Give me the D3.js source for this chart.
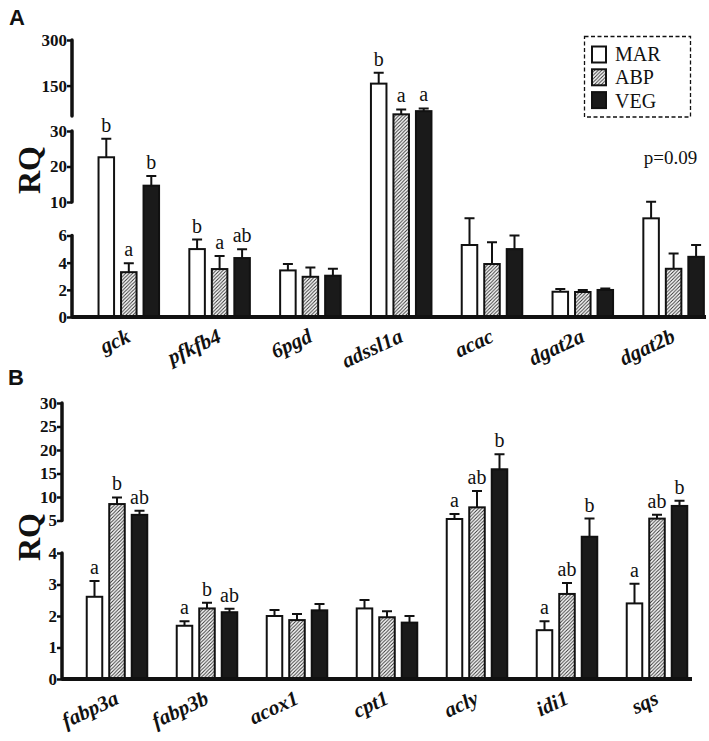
<!DOCTYPE html>
<html><head><meta charset="utf-8">
<script src="https://cdn.jsdelivr.net/npm/d3@7"></script>
<style>
html,body{margin:0;padding:0;background:#fff;}
svg{display:block;}
.serif{font-family:"Liberation Serif","Times New Roman",serif;}
</style></head>
<body>
<script>
// ---------- DATA ----------
const series = ["MAR", "ABP", "VEG"];

const genesA = ["gck", "pfkfb4", "6pgd", "adssl1a", "acac", "dgat2a", "dgat2b"];
const marA = [22.6, 5.0, 3.43, 156.5, 5.3, 1.86, 8.05];
const marErrA = [5.2, 0.7, 0.47, 35.5, 2.75, 0.2, 2.05];
const abpA = [3.3, 3.53, 2.96, 55.5, 3.9, 1.84, 3.55];
const abpErrA = [0.65, 0.97, 0.69, 16.2, 1.6, 0.15, 1.13];
const vegA = [14.6, 4.34, 3.04, 66, 5.0, 1.99, 4.43];
const vegErrA = [2.7, 0.64, 0.51, 9, 1.0, 0.11, 0.87];
const marLetA = ["b", "b", "", "b", "", "", ""];
const abpLetA = ["a", "a", "", "a", "", "", ""];
const vegLetA = ["b", "ab", "", "a", "", "", ""];
const noteA = {gene: "dgat2b", text: "p=0.09"};
// broken y-axis segments [low, high] and tick labels
const segmentsA = [[0, 6], [10, 30], [50, 300]];
const ticksA = [[0, 2, 4, 6], [10, 20, 30], [150, 300]];

const genesB = ["fabp3a", "fabp3b", "acox1", "cpt1", "acly", "idi1", "sqs"];
const marB = [2.61, 1.69, 2.0, 2.24, 5.32, 1.55, 2.4];
const marErrB = [0.5, 0.14, 0.19, 0.27, 1.08, 0.28, 0.62];
const abpB = [8.5, 2.24, 1.87, 1.96, 7.8, 2.7, 5.4];
const abpErrB = [1.4, 0.18, 0.19, 0.19, 3.5, 0.35, 0.8];
const vegB = [6.2, 2.12, 2.18, 1.79, 15.9, 4.5, 8.1];
const vegErrB = [0.9, 0.11, 0.2, 0.21, 3.2, 0.9, 1.1];
const marLetB = ["a", "a", "", "", "a", "a", "a"];
const abpLetB = ["b", "b", "", "", "ab", "ab", "ab"];
const vegLetB = ["ab", "ab", "", "", "b", "b", "b"];
const segmentsB = [[0, 4], [5, 30]];
const ticksB = [[0, 1, 2, 3, 4], [5, 10, 15, 20, 25, 30]];

// ---------- DRAW ----------
const W = 709, H = 741;
const svg = d3.select("body").append("svg").attr("width", W).attr("height", H);

const defs = svg.append("defs");
const pat = defs.append("pattern").attr("id", "hatch")
  .attr("patternUnits", "userSpaceOnUse").attr("width", 3.5).attr("height", 3.5);
pat.append("rect").attr("width", 3.5).attr("height", 3.5).attr("fill", "#fff");
pat.append("path").attr("d", "M-1,1 l2,-2 M0,3.5 l3.5,-3.5 M2.5,4.5 l2,-2")
  .attr("stroke", "#333").attr("stroke-width", 1);

const fills = {MAR: "#fff", ABP: "url(#hatch)", VEG: "#1a1a1a"};
const SERIF = '"Liberation Serif","Times New Roman",serif';

function panel(cfg) {
  const g = svg.append("g");
  const y = d3.scaleLinear().domain(cfg.yDomain).range(cfg.yRange);
  const x0 = d3.scaleBand().domain(cfg.genes).range(cfg.xBand);
  const x1 = d3.scaleBand().domain(series).range([-33.75, 33.75])
    .paddingInner(0.31).paddingOuter(0.155);

  const rows = [];
  cfg.genes.forEach((gene, i) => {
    series.forEach((s, j) => {
      rows.push({gene, s, v: cfg.vals[j][i], e: cfg.errs[j][i], lab: cfg.lets[j][i]});
    });
  });

  const bx = d => x0(d.gene) + x0.bandwidth() / 2 + x1(d.s);
  g.selectAll(".err").data(rows).join("path")
    .attr("d", d => {
      const cx = bx(d) + x1.bandwidth() / 2;
      const yt = y(d.v + d.e);
      return `M${cx},${y(d.v)}V${yt}M${cx - 5},${yt}H${cx + 5}`;
    })
    .attr("stroke", "#111").attr("stroke-width", 2).attr("fill", "none");
  g.selectAll(".bar").data(rows).join("rect")
    .attr("x", d => bx(d)).attr("width", x1.bandwidth())
    .attr("y", d => y(d.v)).attr("height", d => y(0) - y(d.v))
    .attr("fill", d => fills[d.s]).attr("stroke", "#111").attr("stroke-width", 2);
  g.selectAll(".let").data(rows.filter(d => d.lab)).join("text")
    .attr("x", d => bx(d) + x1.bandwidth() / 2)
    .attr("y", d => y(d.v + d.e) - 7)
    .attr("text-anchor", "middle").style("font-family", SERIF).style("font-size", "20px")
    .attr("fill", "#111").text(d => d.lab);

  cfg.segments.forEach((seg, k) => {
    const sc = d3.scaleLinear().domain(seg).range([y(seg[0]), y(seg[1])]);
    const ax = g.append("g").attr("transform", `translate(${cfg.axisX},0)`)
      .call(d3.axisLeft(sc).tickValues(cfg.ticks[k]).tickFormat(d3.format("d"))
        .tickSize(5).tickSizeOuter(0).tickPadding(0));
    ax.attr("font-family", null).attr("font-size", null);
    ax.select(".domain").attr("stroke", "#111").attr("stroke-width", 3.5)
      .attr("stroke-linecap", "round")
      .attr("d", `M0,${sc.range()[0]}V${sc.range()[1]}`);
    ax.selectAll(".tick line").attr("stroke", "#111").attr("stroke-width", 2.5);
    ax.selectAll(".tick text").style("font-family", SERIF).style("font-weight", "bold")
      .style("font-size", "17px").attr("fill", "#111");
  });
  g.append("line").attr("x1", cfg.axisX).attr("x2", cfg.baseEnd)
    .attr("y1", y(0)).attr("y2", y(0)).attr("stroke", "#111").attr("stroke-width", 4);

  g.selectAll(".gl").data(cfg.genes).join("text")
    .attr("transform", d => `translate(${x0(d) + x0.bandwidth() / 2 + 3},${y(0) + 24}) rotate(-25)`)
    .attr("text-anchor", "end").style("font-family", SERIF).style("font-weight", "bold")
    .style("font-style", "italic").style("font-size", "21px").attr("fill", "#111").text(d => d);

  g.append("text").attr("transform", `translate(${cfg.rqX},${cfg.rqY}) rotate(-90)`)
    .attr("text-anchor", "middle").style("font-family", SERIF).style("font-weight", "bold")
    .style("font-size", "32px").attr("fill", "#111").text("RQ");
  g.append("text").attr("x", cfg.letX).attr("y", cfg.letY)
    .style("font-family", '"Liberation Sans",Arial,sans-serif').style("font-weight", "bold")
    .style("font-size", "22px").attr("fill", "#111").text(cfg.letter);

  return {g, x0, y};
}

const A = panel({
  genes: genesA, vals: [marA, abpA, vegA], errs: [marErrA, abpErrA, vegErrA],
  lets: [marLetA, abpLetA, vegLetA],
  yDomain: [0, 6, 10, 30, 50, 300], yRange: [317, 235.5, 202, 131, 116, 40],
  xBand: [83.4, 719], segments: segmentsA, ticks: ticksA,
  axisX: 72, baseEnd: 706, rqX: 40, rqY: 170, letter: "A", letX: 9, letY: 25
});
A.g.append("text")
  .attr("x", A.x0(noteA.gene) + A.x0.bandwidth() / 2 - 3)
  .attr("y", 164).attr("text-anchor", "middle").style("font-family", SERIF)
  .style("font-size", "19px").attr("fill", "#111").text(noteA.text);

const lg = svg.append("g");
lg.append("rect").attr("x", 584.5).attr("y", 36.5).attr("width", 106).attr("height", 80.5)
  .attr("fill", "none").attr("stroke", "#111").attr("stroke-width", 1.3)
  .attr("stroke-dasharray", "4,2.5");
series.forEach((s, i) => {
  lg.append("rect").attr("x", 592).attr("y", 46.5 + i * 22.8).attr("width", 14).attr("height", 16)
    .attr("fill", fills[s]).attr("stroke", "#111").attr("stroke-width", 2);
  lg.append("text").attr("x", 615).attr("y", 61 + i * 23.3).style("font-family", SERIF)
    .style("font-size", "20px").attr("fill", "#111").text(s);
});

panel({
  genes: genesB, vals: [marB, abpB, vegB], errs: [marErrB, abpErrB, vegErrB],
  lets: [marLetB, abpLetB, vegLetB],
  yDomain: [0, 4, 5, 30], yRange: [679, 553, 520.5, 403],
  xBand: [72, 702], segments: segmentsB, ticks: ticksB,
  axisX: 62, baseEnd: 692, rqX: 40, rqY: 537, letter: "B", letX: 8, letY: 385
});
</script>
</body></html>
